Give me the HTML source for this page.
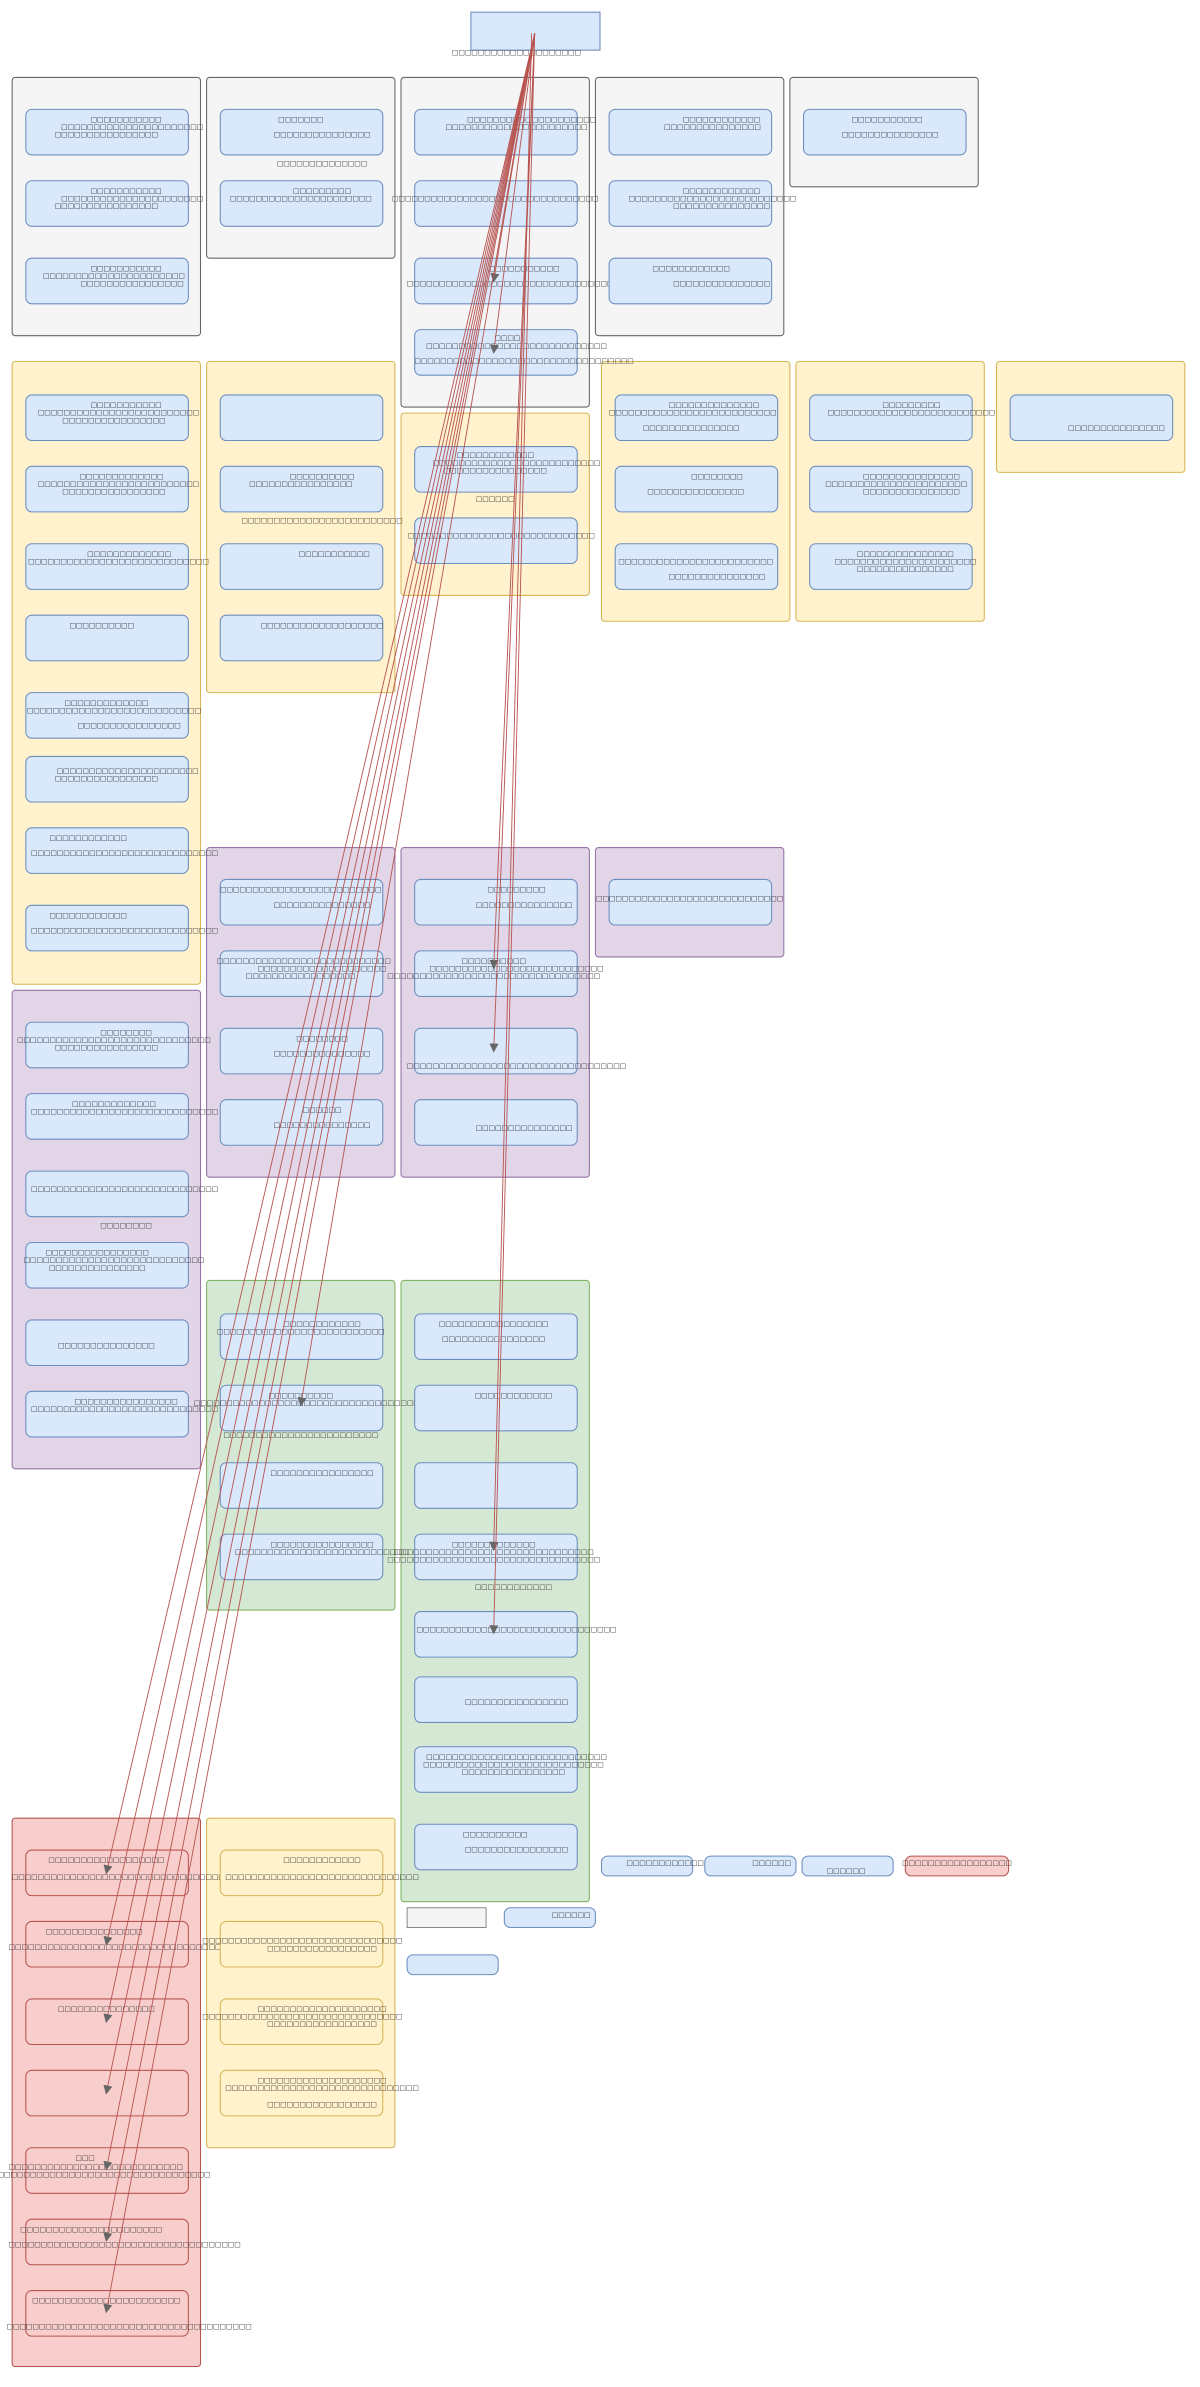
<!DOCTYPE html>
<html><head><meta charset="utf-8"><style>
html,body{margin:0;padding:0;background:#fff;}
svg{display:block;}
text{font-family:"DejaVu Sans","Liberation Sans",sans-serif;font-size:4.5px;fill:#333;text-anchor:middle;}
.g{fill:#f5f5f5;stroke:#666;stroke-width:.7}
.y{fill:#fff2cc;stroke:#d6b656;stroke-width:.7}
.p{fill:#e1d5e7;stroke:#9673a6;stroke-width:.7}
.gr{fill:#d5e8d4;stroke:#82b366;stroke-width:.7}
.r{fill:#f8cecc;stroke:#b85450;stroke-width:.7}
.n{fill:#dae8fc;stroke:#6c8ebf;stroke-width:.7}
.nr{fill:#f8cecc;stroke:#b85450;stroke-width:.7}
.ny{fill:#fff2cc;stroke:#d6b656;stroke-width:.7}
.e{stroke:#b85450;stroke-width:.6;fill:none;marker-end:url(#a)}
</style></head><body>
<svg width="1200" height="2387" viewBox="0 0 790 1571.5" preserveAspectRatio="none" xmlns="http://www.w3.org/2000/svg">
<defs><marker id="a" markerWidth="6" markerHeight="6" refX="5" refY="3" orient="auto" markerUnits="userSpaceOnUse"><path d="M0,0 L6,3 L0,6z" fill="#666"/></marker></defs>

<rect class="n" x="310" y="8" width="85" height="25"/>
<text x="340" y="36">□□□□□□□□□□□□□□□□□□□□</text>

<rect class="g" x="8" y="51" width="124" height="170" rx="2"/>
<rect class="g" x="136" y="51" width="124" height="119" rx="2"/>
<rect class="g" x="264" y="51" width="124" height="217" rx="2"/>
<rect class="g" x="392" y="51" width="124" height="170" rx="2"/>
<rect class="g" x="520" y="51" width="124" height="72" rx="2"/>

<rect class="y" x="8" y="238" width="124" height="410" rx="2"/>
<rect class="y" x="136" y="238" width="124" height="218" rx="2"/>
<rect class="y" x="264" y="272" width="124" height="120" rx="2"/>
<rect class="y" x="396" y="238" width="124" height="171" rx="2"/>
<rect class="y" x="524" y="238" width="124" height="171" rx="2"/>
<rect class="y" x="656" y="238" width="124" height="73" rx="2"/>

<rect class="p" x="8" y="652" width="124" height="315" rx="2"/>
<rect class="p" x="136" y="558" width="124" height="217" rx="2"/>
<rect class="p" x="264" y="558" width="124" height="217" rx="2"/>
<rect class="p" x="392" y="558" width="124" height="72" rx="2"/>

<rect class="gr" x="136" y="843" width="124" height="217" rx="2"/>
<rect class="gr" x="264" y="843" width="124" height="409" rx="2"/>

<rect class="r" x="8" y="1197" width="124" height="361" rx="2"/>
<rect class="y" x="136" y="1197" width="124" height="217" rx="2"/>

<rect class="n" x="17" y="72" width="107" height="30" rx="4"/>
<text x="83" y="80">□□□□□□□□□□□</text><text x="87" y="85">□□□□□□□□□□□□□□□□□□□□□□</text><text x="70" y="90">□□□□□□□□□□□□□□□□</text>
<rect class="n" x="17" y="119" width="107" height="30" rx="4"/>
<text x="83" y="127">□□□□□□□□□□□</text><text x="87" y="132">□□□□□□□□□□□□□□□□□□□□□□</text><text x="70" y="137">□□□□□□□□□□□□□□□□</text>
<rect class="n" x="17" y="170" width="107" height="30" rx="4"/>
<text x="83" y="178">□□□□□□□□□□□</text><text x="75" y="183">□□□□□□□□□□□□□□□□□□□□□□</text><text x="87" y="188">□□□□□□□□□□□□□□□□</text>
<rect class="n" x="145" y="72" width="107" height="30" rx="4"/>
<text x="198" y="80">□□□□□□□</text><text x="212" y="90">□□□□□□□□□□□□□□□</text>
<text x="212" y="109">□□□□□□□□□□□□□□</text>
<rect class="n" x="145" y="119" width="107" height="30" rx="4"/>
<text x="212" y="127">□□□□□□□□□</text><text x="198" y="132">□□□□□□□□□□□□□□□□□□□□□□</text>
<rect class="n" x="273" y="72" width="107" height="30" rx="4"/>
<text x="350" y="80">□□□□□□□□□□□□□□□□□□□□</text><text x="340" y="85">□□□□□□□□□□□□□□□□□□□□□□</text>
<rect class="n" x="273" y="119" width="107" height="30" rx="4"/>
<text x="326" y="132">□□□□□□□□□□□□□□□□□□□□□□□□□□□□□□□□</text>
<rect class="n" x="273" y="170" width="107" height="30" rx="4"/>
<text x="345" y="178">□□□□□□□□□□□</text><text x="340" y="188">□□□□□□□□□□□□□□□□□□□□□□□□□□□□□□□□□□</text>
<rect class="n" x="273" y="217" width="107" height="30" rx="4"/>
<text x="334" y="224">□□□□</text><text x="340" y="229">□□□□□□□□□□□□□□□□□□□□□□□□□□□□</text><text x="345" y="239">□□□□□□□□□□□□□□□□□□□□□□□□□□□□□□□□□□</text>
<rect class="n" x="401" y="72" width="107" height="30" rx="4"/>
<text x="475" y="80">□□□□□□□□□□□□</text><text x="469" y="85">□□□□□□□□□□□□□□□</text>
<rect class="n" x="401" y="119" width="107" height="30" rx="4"/>
<text x="475" y="127">□□□□□□□□□□□□</text><text x="469" y="132">□□□□□□□□□□□□□□□□□□□□□□□□□□</text><text x="475" y="137">□□□□□□□□□□□□□□□</text>
<rect class="n" x="401" y="170" width="107" height="30" rx="4"/>
<text x="455" y="178">□□□□□□□□□□□□</text><text x="475" y="188">□□□□□□□□□□□□□□□</text>
<rect class="n" x="529" y="72" width="107" height="30" rx="4"/>
<text x="584" y="80">□□□□□□□□□□□</text><text x="586" y="90">□□□□□□□□□□□□□□□</text>

<rect class="n" x="17" y="260" width="107" height="30" rx="4"/>
<text x="83" y="268">□□□□□□□□□□□</text><text x="78" y="273">□□□□□□□□□□□□□□□□□□□□□□□□□</text><text x="75" y="278">□□□□□□□□□□□□□□□□</text>
<rect class="n" x="17" y="307" width="107" height="30" rx="4"/>
<text x="80" y="315">□□□□□□□□□□□□□</text><text x="78" y="320">□□□□□□□□□□□□□□□□□□□□□□□□□</text><text x="75" y="325">□□□□□□□□□□□□□□□□</text>
<rect class="n" x="17" y="358" width="107" height="30" rx="4"/>
<text x="85" y="366">□□□□□□□□□□□□□</text><text x="78" y="371">□□□□□□□□□□□□□□□□□□□□□□□□□□□□</text>
<rect class="n" x="17" y="405" width="107" height="30" rx="4"/>
<text x="67" y="413">□□□□□□□□□□</text>
<rect class="n" x="17" y="456" width="107" height="30" rx="4"/>
<text x="70" y="464">□□□□□□□□□□□□□</text><text x="75" y="469">□□□□□□□□□□□□□□□□□□□□□□□□□□□</text><text x="85" y="479">□□□□□□□□□□□□□□□□</text>
<rect class="n" x="17" y="498" width="107" height="30" rx="4"/>
<text x="84" y="509">□□□□□□□□□□□□□□□□□□□□□□</text><text x="70" y="514">□□□□□□□□□□□□□□□□</text>
<rect class="n" x="17" y="545" width="107" height="30" rx="4"/>
<text x="58" y="553">□□□□□□□□□□□□</text><text x="82" y="563">□□□□□□□□□□□□□□□□□□□□□□□□□□□□□</text>
<rect class="n" x="17" y="596" width="107" height="30" rx="4"/>
<text x="58" y="604">□□□□□□□□□□□□</text><text x="82" y="614">□□□□□□□□□□□□□□□□□□□□□□□□□□□□□</text>
<rect class="n" x="145" y="260" width="107" height="30" rx="4"/>
<rect class="n" x="145" y="307" width="107" height="30" rx="4"/>
<text x="212" y="315">□□□□□□□□□□</text><text x="198" y="320">□□□□□□□□□□□□□□□□</text>
<text x="212" y="344">□□□□□□□□□□□□□□□□□□□□□□□□□</text>
<rect class="n" x="145" y="358" width="107" height="30" rx="4"/>
<text x="220" y="366">□□□□□□□□□□□</text>
<rect class="n" x="145" y="405" width="107" height="30" rx="4"/>
<text x="212" y="413">□□□□□□□□□□□□□□□□□□□</text>
<rect class="n" x="273" y="294" width="107" height="30" rx="4"/>
<text x="326" y="301">□□□□□□□□□□□□</text><text x="340" y="306">□□□□□□□□□□□□□□□□□□□□□□□□□□</text><text x="326" y="311">□□□□□□□□□□□□□□□□</text>
<text x="326" y="330">□□□□□□</text>
<rect class="n" x="273" y="341" width="107" height="30" rx="4"/>
<text x="330" y="354">□□□□□□□□□□□□□□□□□□□□□□□□□□□□□</text>
<rect class="n" x="405" y="260" width="107" height="30" rx="4"/>
<text x="470" y="268">□□□□□□□□□□□□□□</text><text x="456" y="273">□□□□□□□□□□□□□□□□□□□□□□□□□□</text><text x="455" y="283">□□□□□□□□□□□□□□□</text>
<rect class="n" x="405" y="307" width="107" height="30" rx="4"/>
<text x="472" y="315">□□□□□□□□</text><text x="458" y="325">□□□□□□□□□□□□□□□</text>
<rect class="n" x="405" y="358" width="107" height="30" rx="4"/>
<text x="458" y="371">□□□□□□□□□□□□□□□□□□□□□□□□</text><text x="472" y="381">□□□□□□□□□□□□□□□</text>
<rect class="n" x="533" y="260" width="107" height="30" rx="4"/>
<text x="600" y="268">□□□□□□□□□</text><text x="600" y="273">□□□□□□□□□□□□□□□□□□□□□□□□□□</text>
<rect class="n" x="533" y="307" width="107" height="30" rx="4"/>
<text x="600" y="315">□□□□□□□□□□□□□□□</text><text x="590" y="320">□□□□□□□□□□□□□□□□□□□□□□</text><text x="600" y="325">□□□□□□□□□□□□□□□</text>
<rect class="n" x="533" y="358" width="107" height="30" rx="4"/>
<text x="596" y="366">□□□□□□□□□□□□□□□</text><text x="596" y="371">□□□□□□□□□□□□□□□□□□□□□□</text><text x="596" y="376">□□□□□□□□□□□□□□□</text>
<rect class="n" x="665" y="260" width="107" height="30" rx="4"/>
<text x="735" y="283">□□□□□□□□□□□□□□□</text>

<rect class="n" x="17" y="673" width="107" height="30" rx="4"/>
<text x="83" y="681">□□□□□□□□</text><text x="75" y="686">□□□□□□□□□□□□□□□□□□□□□□□□□□□□□□</text><text x="70" y="691">□□□□□□□□□□□□□□□□</text>
<rect class="n" x="17" y="720" width="107" height="30" rx="4"/>
<text x="75" y="728">□□□□□□□□□□□□□</text><text x="82" y="733">□□□□□□□□□□□□□□□□□□□□□□□□□□□□□</text>
<rect class="n" x="17" y="771" width="107" height="30" rx="4"/>
<text x="82" y="784">□□□□□□□□□□□□□□□□□□□□□□□□□□□□□</text>
<text x="83" y="808">□□□□□□□□</text>
<rect class="n" x="17" y="818" width="107" height="30" rx="4"/>
<text x="64" y="826">□□□□□□□□□□□□□□□□</text><text x="75" y="831">□□□□□□□□□□□□□□□□□□□□□□□□□□□□</text><text x="64" y="836">□□□□□□□□□□□□□□□</text>
<rect class="n" x="17" y="869" width="107" height="30" rx="4"/>
<text x="70" y="887">□□□□□□□□□□□□□□□</text>
<rect class="n" x="17" y="916" width="107" height="30" rx="4"/>
<text x="83" y="924">□□□□□□□□□□□□□□□□</text><text x="82" y="929">□□□□□□□□□□□□□□□□□□□□□□□□□□□□□</text>
<rect class="n" x="145" y="579" width="107" height="30" rx="4"/>
<text x="198" y="587">□□□□□□□□□□□□□□□□□□□□□□□□□</text><text x="212" y="597">□□□□□□□□□□□□□□□</text>
<rect class="n" x="145" y="626" width="107" height="30" rx="4"/>
<text x="200" y="634">□□□□□□□□□□□□□□□□□□□□□□□□□□□</text><text x="212" y="639">□□□□□□□□□□□□□□□□□□□□</text><text x="198" y="644">□□□□□□□□□□□□□□□□□</text>
<rect class="n" x="145" y="677" width="107" height="30" rx="4"/>
<text x="212" y="685">□□□□□□□□</text><text x="212" y="695">□□□□□□□□□□□□□□□</text>
<rect class="n" x="145" y="724" width="107" height="30" rx="4"/>
<text x="212" y="732">□□□□□□</text><text x="212" y="742">□□□□□□□□□□□□□□□</text>
<rect class="n" x="273" y="579" width="107" height="30" rx="4"/>
<text x="340" y="587">□□□□□□□□□</text><text x="345" y="597">□□□□□□□□□□□□□□□</text>
<rect class="n" x="273" y="626" width="107" height="30" rx="4"/>
<text x="325" y="634">□□□□□□□□□□</text><text x="340" y="639">□□□□□□□□□□□□□□□□□□□□□□□□□□□</text><text x="325" y="644">□□□□□□□□□□□□□□□□□□□□□□□□□□□□□□□□□</text>
<rect class="n" x="273" y="677" width="107" height="30" rx="4"/>
<text x="340" y="703">□□□□□□□□□□□□□□□□□□□□□□□□□□□□□□□□□□</text>
<rect class="n" x="273" y="724" width="107" height="30" rx="4"/>
<text x="345" y="744">□□□□□□□□□□□□□□□</text>
<rect class="n" x="401" y="579" width="107" height="30" rx="4"/>
<text x="454" y="593">□□□□□□□□□□□□□□□□□□□□□□□□□□□□□</text>

<rect class="n" x="145" y="865" width="107" height="30" rx="4"/>
<text x="212" y="873">□□□□□□□□□□□□</text><text x="198" y="878">□□□□□□□□□□□□□□□□□□□□□□□□□□</text>
<rect class="n" x="145" y="912" width="107" height="30" rx="4"/>
<text x="198" y="920">□□□□□□□□□□</text><text x="202" y="925">□□□□□□□□□□□□□□□□□□□□□□□□□□□□□□□□□□□</text>
<text x="198" y="946">□□□□□□□□□□□□□□□□□□□□□□□□</text>
<rect class="n" x="145" y="963" width="107" height="30" rx="4"/>
<text x="212" y="971">□□□□□□□□□□□□□□□□</text>
<rect class="n" x="145" y="1010" width="107" height="30" rx="4"/>
<text x="212" y="1018">□□□□□□□□□□□□□□□□</text><text x="212" y="1023">□□□□□□□□□□□□□□□□□□□□□□□□□□□</text>
<rect class="n" x="273" y="865" width="107" height="30" rx="4"/>
<text x="325" y="873">□□□□□□□□□□□□□□□□□</text><text x="325" y="883">□□□□□□□□□□□□□□□□</text>
<rect class="n" x="273" y="912" width="107" height="30" rx="4"/>
<text x="338" y="920">□□□□□□□□□□□□</text>
<rect class="n" x="273" y="963" width="107" height="30" rx="4"/>
<rect class="n" x="273" y="1010" width="107" height="30" rx="4"/>
<text x="325" y="1018">□□□□□□□□□□□□□</text><text x="325" y="1023">□□□□□□□□□□□□□□□□□□□□□□□□□□□□□□□</text><text x="325" y="1028">□□□□□□□□□□□□□□□□□□□□□□□□□□□□□□□□□</text>
<text x="338" y="1046">□□□□□□□□□□□□</text>
<rect class="n" x="273" y="1061" width="107" height="30" rx="4"/>
<text x="340" y="1074">□□□□□□□□□□□□□□□□□□□□□□□□□□□□□□□</text>
<rect class="n" x="273" y="1104" width="107" height="30" rx="4"/>
<text x="340" y="1122">□□□□□□□□□□□□□□□□</text>
<rect class="n" x="273" y="1150" width="107" height="30" rx="4"/>
<text x="340" y="1158">□□□□□□□□□□□□□□□□□□□□□□□□□□□□</text><text x="338" y="1163">□□□□□□□□□□□□□□□□□□□□□□□□□□□□</text><text x="338" y="1168">□□□□□□□□□□□□□□□□</text>
<rect class="n" x="273" y="1201" width="107" height="30" rx="4"/>
<text x="326" y="1209">□□□□□□□□□□</text><text x="340" y="1219">□□□□□□□□□□□□□□□□</text>

<rect class="nr" x="17" y="1218" width="107" height="30" rx="4"/>
<text x="70" y="1226">□□□□□□□□□□□□□□□□□□</text><text x="80" y="1237">□□□□□□□□□□□□□□□□□□□□□□□□□□□□□□□□□□</text>
<rect class="nr" x="17" y="1265" width="107" height="30" rx="4"/>
<text x="62" y="1273">□□□□□□□□□□□□□□□</text><text x="80" y="1283">□□□□□□□□□□□□□□□□□□□□□□□□□□□□□□□□□□□</text>
<rect class="nr" x="17" y="1316" width="107" height="30" rx="4"/>
<text x="70" y="1324">□□□□□□□□□□□□□□□</text>
<rect class="nr" x="17" y="1363" width="107" height="30" rx="4"/>
<rect class="nr" x="17" y="1414" width="107" height="30" rx="4"/>
<text x="56" y="1422">□□□</text><text x="63" y="1428">□□□□□□□□□□□□□□□□□□□□□□□□□□□</text><text x="60" y="1433">□□□□□□□□□□□□□□□□□□□□□□□□□□□□□□□□□□□□□</text>
<rect class="nr" x="17" y="1461" width="107" height="30" rx="4"/>
<text x="60" y="1469">□□□□□□□□□□□□□□□□□□□□□□</text><text x="82" y="1479">□□□□□□□□□□□□□□□□□□□□□□□□□□□□□□□□□□□□</text>
<rect class="nr" x="17" y="1508" width="107" height="30" rx="4"/>
<text x="70" y="1516">□□□□□□□□□□□□□□□□□□□□□□□</text><text x="85" y="1533">□□□□□□□□□□□□□□□□□□□□□□□□□□□□□□□□□□□□□□</text>
<rect class="ny" x="145" y="1218" width="107" height="30" rx="4"/>
<text x="212" y="1226">□□□□□□□□□□□□</text><text x="212" y="1237">□□□□□□□□□□□□□□□□□□□□□□□□□□□□□□</text>
<rect class="ny" x="145" y="1265" width="107" height="30" rx="4"/>
<text x="199" y="1279">□□□□□□□□□□□□□□□□□□□□□□□□□□□□□□□</text><text x="212" y="1284">□□□□□□□□□□□□□□□□□</text>
<rect class="ny" x="145" y="1316" width="107" height="30" rx="4"/>
<text x="212" y="1324">□□□□□□□□□□□□□□□□□□□□</text><text x="199" y="1329">□□□□□□□□□□□□□□□□□□□□□□□□□□□□□□□</text><text x="212" y="1334">□□□□□□□□□□□□□□□□□</text>
<rect class="ny" x="145" y="1363" width="107" height="30" rx="4"/>
<text x="212" y="1371">□□□□□□□□□□□□□□□□□□□□</text><text x="212" y="1376">□□□□□□□□□□□□□□□□□□□□□□□□□□□□□□</text><text x="212" y="1387">□□□□□□□□□□□□□□□□□</text>

<rect class="n" x="396" y="1222" width="60" height="13" rx="4"/>
<text x="440" y="1228">□□□□□□□□□□□□□</text>
<rect class="n" x="464" y="1222" width="60" height="13" rx="4"/>
<text x="508" y="1228">□□□□□□</text>
<rect class="n" x="528" y="1222" width="60" height="13" rx="4"/>
<text x="557" y="1233">□□□□□□</text>
<rect class="nr" x="596" y="1222" width="68" height="13" rx="4"/>
<text x="630" y="1228">□□□□□□□□□□□□□□□□□</text>
<rect x="268" y="1256" width="52" height="13" fill="#f5f5f5" stroke="#666" stroke-width=".5"/>
<rect class="n" x="332" y="1256" width="60" height="13" rx="4"/>
<text x="376" y="1262">□□□□□□</text>
<rect class="n" x="268" y="1287" width="60" height="13" rx="4"/>

<path class="e" d="M352,22 L325,185"/>
<path class="e" d="M352,22 L325,232"/>
<path class="e" d="M352,22 L325,637"/>
<path class="e" d="M352,22 L325,692"/>
<path class="e" d="M352,22 L198,925"/>
<path class="e" d="M350,22 L325,1020"/>
<path class="e" d="M352,22 L325,1075"/>
<path class="e" d="M352,22 L70,1233"/>
<path class="e" d="M352,22 L70,1280"/>
<path class="e" d="M352,22 L70,1331"/>
<path class="e" d="M352,22 L70,1378"/>
<path class="e" d="M352,22 L70,1428"/>
<path class="e" d="M352,22 L70,1475"/>
<path class="e" d="M352,22 L70,1522"/>
</svg>
</body></html>
